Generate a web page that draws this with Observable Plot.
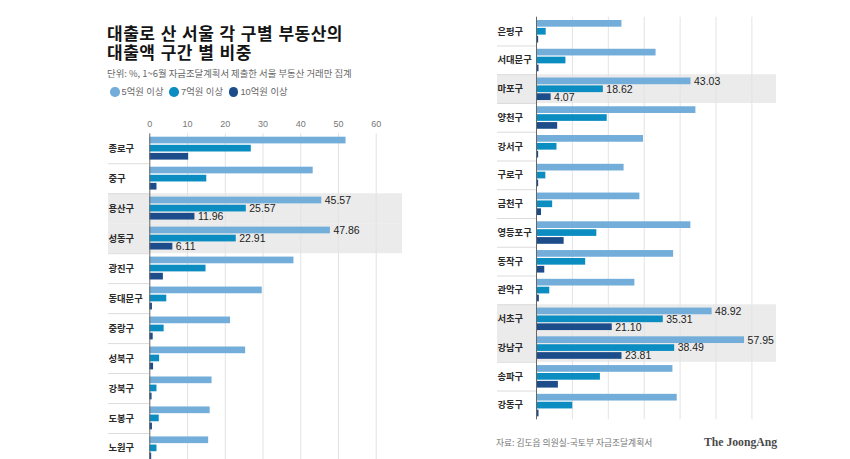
<!DOCTYPE html>
<html>
<head>
<meta charset="utf-8">
<script src="https://cdn.jsdelivr.net/npm/d3@7"></script>
<script src="https://cdn.jsdelivr.net/npm/@observablehq/plot@0.6"></script>
<style>
html, body { margin: 0; padding: 0; background: #fff; overflow: hidden; }
#chart { position: relative; width: 850px; height: 459px; overflow: hidden; background: #fff;
  font-family: "Liberation Sans", "Noto Sans CJK KR", sans-serif; }
.abs { position: absolute; white-space: nowrap; }
.title { left: 107px; font-family: "Liberation Sans", "Noto Sans CJK KR", sans-serif; font-weight: 700;
  font-size: 17px; line-height: 19px; color: #141414; letter-spacing: 0.5px; }
#subtitle { left: 107px; top: 67px; font-family: "Noto Sans CJK KR", sans-serif; font-size: 9.4px;
  line-height: 12px; color: #666; }
#legend { left: 110px; top: 86px; display: flex; align-items: center; font-family: "Liberation Sans", "Noto Sans CJK KR", sans-serif;
  font-size: 9.3px; line-height: 12px; color: #666; }
#legend .item { display: flex; align-items: center; margin-right: 6px; }
#legend .sw { width: 9.5px; height: 9.5px; border-radius: 50%; margin-right: 2px; }
#source { left: 496px; top: 437px; font-family: "Noto Sans CJK KR", sans-serif; font-size: 8.75px; line-height: 12px; color: #777; }
#brand { left: 704px; top: 436px; font-family: "Liberation Serif", serif; font-weight: 700; font-size: 11.7px; line-height: 14px; color: #4a4a4a; }
.panel { position: absolute; }
</style>
</head>
<body>
<div id="chart">
  <div class="abs title" style="top:25.3px;">대출로 산 서울 각 구별 부동산의</div>
  <div class="abs title" style="top:44.3px;">대출액 구간 별 비중</div>
  <div id="subtitle" class="abs">단위: %, 1~6월 자금조달계획서 제출한 서울 부동산 거래만 집계</div>
  <div id="legend" class="abs"></div>
  <div id="left" class="panel" style="left:0px; top:110px;"></div>
  <div id="right" class="panel" style="left:440px; top:0px;"></div>
  <div id="source" class="abs">자료: 김도읍 의원실-국토부 자금조달계획서</div>
  <div id="brand" class="abs">The JoongAng</div>
</div>
<script>
// ---------- data ----------
const seriesNames = ["5억원 이상", "7억원 이상", "10억원 이상"];
const seriesColors = ["#72aed9", "#0b8dc2", "#1d4c8a"];
const xTicks = [0, 10, 20, 30, 40, 50, 60];

const leftDistricts = ["종로구", "중구", "용산구", "성동구", "광진구", "동대문구", "중랑구", "성북구", "강북구", "도봉구", "노원구"];
const left5  = [52.0, 43.3, 45.57, 47.86, 38.2, 29.8, 21.4, 25.4, 16.5, 16.0, 15.6];
const left7  = [26.9, 15.1, 25.57, 22.91, 14.9, 4.5, 3.8, 2.6, 1.9, 2.5, 1.9];
const left10 = [10.3, 1.9, 11.96, 6.11, 3.6, 0.7, 0.9, 1.0, 0.6, 0.7, 0.5];

const rightDistricts = ["은평구", "서대문구", "마포구", "양천구", "강서구", "구로구", "금천구", "영등포구", "동작구", "관악구", "서초구", "강남구", "송파구", "강동구"];
const right5  = [23.8, 33.3, 43.03, 44.4, 29.8, 24.4, 28.8, 43.0, 38.2, 27.4, 48.92, 57.95, 38.0, 39.2];
const right7  = [2.7, 8.2, 18.62, 19.7, 5.7, 2.6, 4.5, 16.8, 13.7, 3.7, 35.31, 38.49, 17.8, 10.1];
const right10 = [0.6, 0.7, 4.07, 5.9, 0.6, 0.6, 1.4, 7.7, 2.3, 0.8, 21.10, 23.81, 6.1, 0.7];

const highlighted = ["용산구", "성동구", "마포구", "서초구", "강남구"];

// ---------- legend ----------
const legend = document.getElementById("legend");
seriesNames.forEach((name, i) => {
  const item = document.createElement("div");
  item.className = "item";
  const sw = document.createElement("span");
  sw.className = "sw";
  sw.style.background = seriesColors[i];
  const lab = document.createElement("span");
  lab.textContent = name;
  item.appendChild(sw); item.appendChild(lab);
  legend.appendChild(item);
});

// ---------- panels ----------
const fmt = d3.format(".2f");

function panel(cfg) {
  const {districts, values, width, height, marginLeft, marginRight, marginTop, marginBottom,
         xRange, showAxis, barOffset, barStep, barH} = cfg;
  const rowH = (height - marginTop - marginBottom) / districts.length;
  const rows = [];
  districts.forEach((d, i) => values.forEach((arr, s) => rows.push({district: d, series: s, value: arr[i]})));
  const hl = districts.filter(d => highlighted.includes(d));
  const seps = districts.slice(0, -1).filter((d, i) => !(highlighted.includes(d) && highlighted.includes(districts[i + 1])));

  const marks = [
    Plot.cell(hl, {y: d => d, fill: "#ebebeb"}),
    Plot.ruleX(xTicks.slice(1), {stroke: "#e3e3e3", strokeWidth: 1}),
    Plot.ruleY(seps, {y: d => d, dy: rowH / 2, x1: 0, x2: 0, insetLeft: -(xRange[0] - marginLeft), stroke: "#dcdcdc"}),
    Plot.text(districts, {y: d => d, text: d => d, frameAnchor: "left", textAnchor: "start",
      fontWeight: 700, fontSize: 9.3, fill: "#2a2a2a", fontFamily: "Noto Sans CJK KR"})
  ];
  values.forEach((arr, s) => {
    const top = barOffset + s * barStep;
    marks.push(Plot.barX(rows.filter(r => r.series === s), {
      y: "district", x: "value", fill: seriesColors[s],
      insetTop: top, insetBottom: rowH - top - barH
    }));
  });
  marks.push(Plot.ruleX([0], {stroke: "#666", strokeWidth: 1}));
  values.forEach((arr, s) => {
    const center = barOffset + s * barStep + barH / 2 - rowH / 2;
    marks.push(Plot.text(rows.filter(r => r.series === s && highlighted.includes(r.district)), {
      y: "district", x: "value", text: d => fmt(d.value), textAnchor: "start",
      dx: 3, dy: center, fill: "#222", fontSize: 10.5, fontFamily: "Liberation Sans"
    }));
  });

  return Plot.plot({
    width, height, marginLeft, marginRight, marginTop, marginBottom,
    style: {background: "transparent", fontFamily: "Liberation Sans, Noto Sans CJK KR, sans-serif", fontSize: "9px", color: "#777", overflow: "visible"},
    x: {domain: [0, 60], range: xRange, axis: showAxis ? "top" : null, ticks: xTicks,
        tickSize: 0, tickPadding: 6.5, label: null},
    y: {domain: districts, padding: 0, round: false, axis: null},
    marks
  });
}

document.getElementById("left").appendChild(panel({
  districts: leftDistricts, values: [left5, left7, left10],
  width: 430, height: 353, marginLeft: 108, marginRight: 28, marginTop: 23.3, marginBottom: 0,
  xRange: [149.3, 375.7], showAxis: true, barOffset: 3.4, barStep: 8.1, barH: 6.7
}));

document.getElementById("right").appendChild(panel({
  districts: rightDistricts, values: [right5, right7, right10],
  width: 410, height: 420, marginLeft: 57, marginRight: 74, marginTop: 16.7, marginBottom: 0.7,
  xRange: [96, 311.4], showAxis: false, barOffset: 3.3, barStep: 7.9, barH: 6.7
}));
</script>
</body>
</html>
